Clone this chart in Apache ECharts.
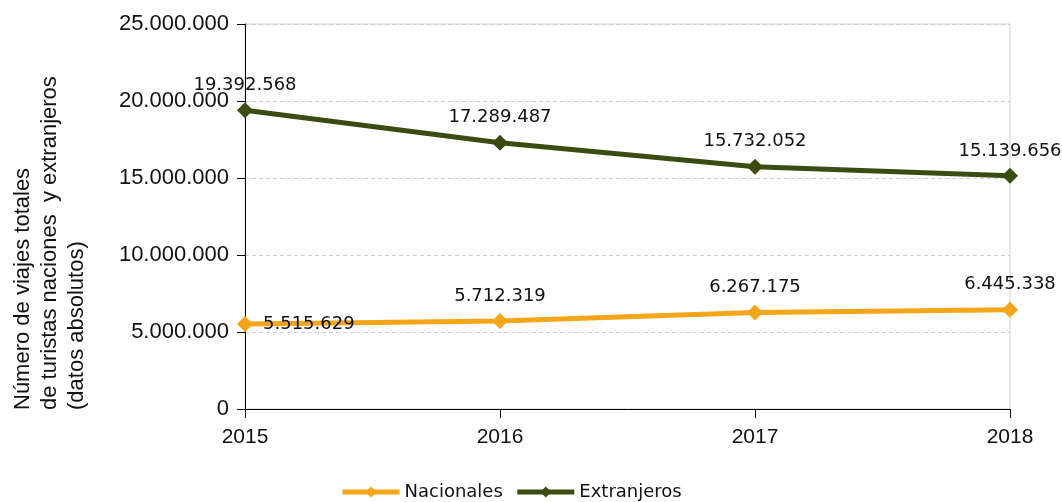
<!DOCTYPE html>
<html><head><meta charset="utf-8">
<script src="https://cdn.jsdelivr.net/npm/echarts@6/dist/echarts.min.js"></script>
<style>html,body{margin:0;padding:0;background:#fff}#c{width:1062px;height:502px}</style>
</head><body><div id="c"></div>
<script>
const years = ['2015','2016','2017','2018'];
const nacionales = [5515629, 5712319, 6267175, 6445338];
const extranjeros = [19392568, 17289487, 15732052, 15139656];
const yTicks = {min: 0, max: 25000000, interval: 5000000};
const yTitleLines = ['Número de viajes totales', 'de turistas naciones  y extranjeros', '(datos absolutos)'];

const fmt = v => String(Math.round(v)).replace(/\B(?=(\d{3})+(?!\d))/g, '.');
const chart = echarts.init(document.getElementById('c'), null, {renderer: 'canvas'});
const orange = '#F5A519', green = '#3A4C10';
const lblFont = {fontFamily: 'DejaVu Sans', fontSize: 18, color: '#111'};
chart.setOption({
  animation: false,
  grid: {left: 245, right: 52, top: 24, bottom: 93, show: true, borderColor: '#d0d0d0', borderWidth: 1},
  legend: {
    top: 483, left: 340, itemWidth: 57, itemHeight: 14, itemGap: 12, padding: 0,
    lineStyle: {width: 5},
    textStyle: {fontFamily: 'DejaVu Sans', fontSize: 18, color: '#111'},
    data: ['Nacionales', 'Extranjeros']
  },
  xAxis: {
    type: 'category', data: years, boundaryGap: false,
    axisLine: {lineStyle: {color: '#000', width: 1}},
    axisTick: {show: true, length: 9, alignWithLabel: true, lineStyle: {color: '#000'}},
    axisLabel: {fontFamily: 'Liberation Sans', fontSize: 21, color: '#111', margin: 18},
    splitLine: {show: false}
  },
  yAxis: {
    type: 'value', min: yTicks.min, max: yTicks.max, interval: yTicks.interval,
    axisLine: {show: true, lineStyle: {color: '#000', width: 1}},
    axisTick: {show: true, length: 8, lineStyle: {color: '#000'}},
    axisLabel: {fontFamily: 'Liberation Sans', fontSize: 22, color: '#111', margin: 16, formatter: v => fmt(v)},
    splitLine: {show: true, lineStyle: {color: '#cfcfcf', type: [4, 3], width: 1}}
  },
  graphic: yTitleLines.map((t, i) => ({
    type: 'text', x: 23 + i * 27, y: 410, rotation: Math.PI / 2,
    style: {text: t, fontFamily: 'Liberation Sans', fontSize: 22, fill: '#111', align: 'left', verticalAlign: 'middle'}
  })),
  series: [
    {
      name: 'Nacionales', type: 'line', data: nacionales.map((v, i) => i === 0
        ? {value: v, label: {position: 'right', distance: 10}} : v),
      color: orange, lineStyle: {width: 5, color: orange},
      symbol: 'diamond', symbolSize: 16, itemStyle: {color: orange},
      label: Object.assign({show: true, position: 'top', distance: 8, formatter: p => fmt(p.value)}, lblFont)
    },
    {
      name: 'Extranjeros', type: 'line', data: extranjeros,
      color: green, lineStyle: {width: 5, color: green},
      symbol: 'diamond', symbolSize: 16, itemStyle: {color: green},
      label: Object.assign({show: true, position: 'top', distance: 8, formatter: p => fmt(p.value)}, lblFont)
    }
  ]
});
</script></body></html>
